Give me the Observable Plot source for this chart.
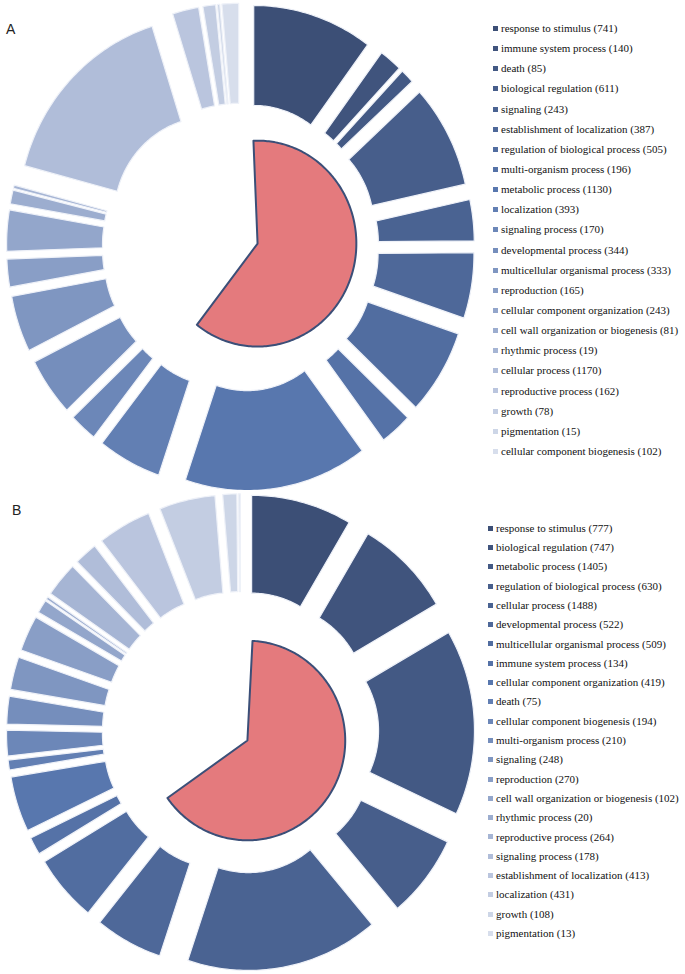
<!DOCTYPE html>
<html><head><meta charset="utf-8">
<script src="https://cdn.jsdelivr.net/npm/d3@7"></script>
<script src="https://cdn.jsdelivr.net/npm/@observablehq/plot@0.6"></script>
<style>
body{margin:0;background:#fff;}
#wrap{position:relative;width:685px;height:974px;overflow:hidden;}
.panel{position:absolute;left:0;}
.tag{position:absolute;font-family:"Liberation Sans",Arial,sans-serif;font-size:14px;color:#222;line-height:16px;}
.legend{position:absolute;left:0;top:0;font-family:"Liberation Serif",Tinos,"Times New Roman",Times,"DejaVu Serif",serif;font-size:11px;color:#111;}
.legend div{position:absolute;white-space:nowrap;line-height:14px;height:14px;font-family:inherit;}
.legend span.sw{display:inline-block;width:5px;height:5px;margin-right:3px;position:relative;top:-1px;vertical-align:middle;}
</style></head><body><div id="wrap"></div>
<script>
// ---------- data ----------
const categoriesA = ["response to stimulus","immune system process","death","biological regulation","signaling","establishment of localization","regulation of biological process","multi-organism process","metabolic process","localization","signaling process","developmental process","multicellular organismal process","reproduction","cellular component organization","cell wall organization or biogenesis","rhythmic process","cellular process","reproductive process","growth","pigmentation","cellular component biogenesis"];
const valuesA = [741,140,85,611,243,387,505,196,1130,393,170,344,333,165,243,81,19,1170,162,78,15,102];
const categoriesB = ["response to stimulus","biological regulation","metabolic process","regulation of biological process","cellular process","developmental process","multicellular organismal process","immune system process","cellular component organization","death","cellular component biogenesis","multi-organism process","signaling","reproduction","cell wall organization or biogenesis","rhythmic process","reproductive process","signaling process","establishment of localization","localization","growth","pigmentation"];
const valuesB = [777,747,1405,630,1488,522,509,134,419,75,194,210,248,270,102,20,264,178,413,431,108,13];
const pieShareA = 0.612;
const pieShareB = 0.644;
const panelLabels = ["A","B"];

// ---------- style / geometry ----------
const shade = d3.scaleLinear().domain([0,0.38,0.81,1])
  .range(["#3c4f76","#5877ae","#b0bdd9","#d7deec"]).interpolate(d3.interpolateRgb);
const R1 = 1, R0 = 0.5, EXPL = 0.22;
const DEG = Math.PI/180;

function ringRows(values){
  const total = d3.sum(values), n = values.length;
  let cum = 0; const rows = [];
  values.forEach((v,i)=>{
    const a0 = cum/total*2*Math.PI, a1 = (cum+v)/total*2*Math.PI; cum += v;
    const m = (a0+a1)/2, ox = EXPL*Math.sin(m), oy = EXPL*Math.cos(m);
    const steps = Math.max(2, Math.ceil((a1-a0)/DEG));
    const color = shade(i/(n-1));
    for(let k=0;k<=steps;k++){const a=a0+(a1-a0)*k/steps; rows.push({key:i,color,x:ox+R1*Math.sin(a),y:oy+R1*Math.cos(a)});}
    for(let k=steps;k>=0;k--){const a=a0+(a1-a0)*k/steps; rows.push({key:i,color,x:ox+R0*Math.sin(a),y:oy+R0*Math.cos(a)});}
  });
  return rows;
}
function pieRows(share, cx, cy, r, startDeg){
  const a0 = startDeg*DEG, a1 = a0 + share*2*Math.PI;
  const rows=[{x:cx,y:cy}];
  const steps = Math.ceil((a1-a0)/DEG);
  for(let k=0;k<=steps;k++){const a=a0+(a1-a0)*k/steps; rows.push({x:cx+r*Math.sin(a),y:cy+r*Math.cos(a)});}
  return rows;
}

function panel(values, share, opt){
  return Plot.plot({
    width:480, height:opt.height, margin:0,
    x:{domain:opt.xd, axis:null},
    y:{domain:opt.yd, axis:null},
    color:{type:"identity"},
    marks:[
      Plot.line(ringRows(values), {x:"x", y:"y", z:"key", fill:"color", stroke:"#eef1f8", strokeWidth:1.2, curve:"linear-closed"}),
      Plot.line(pieRows(share, opt.pcx, opt.pcy, opt.pr, opt.pstart), {x:"x", y:"y", fill:"#e47a7d", stroke:"#3b4f78", strokeWidth:2, strokeLinejoin:"round", curve:"linear-closed"})
    ]
  });
}

const wrap = document.getElementById("wrap");
function addPanel(values, cats, share, top, opt, legendLeft, legendTop, legendStep, label, tagPos){
  const svg = panel(values, share, opt);
  svg.classList.add("panel"); svg.style.top = top+"px";
  wrap.appendChild(svg);
  const t = document.createElement("div"); t.className="tag"; t.textContent=label;
  t.style.left=tagPos[0]+"px"; t.style.top=tagPos[1]+"px"; wrap.appendChild(t);
  const lg = document.createElement("div"); lg.className="legend";
  cats.forEach((c,i)=>{
    const row=document.createElement("div");
    row.style.left=legendLeft+"px";
    row.style.top=(legendTop+i*legendStep-7)+"px";
    const sw=document.createElement("span"); sw.className="sw"; sw.style.background=shade(i/(cats.length-1));
    row.appendChild(sw);
    row.appendChild(document.createTextNode(`${c} (${values[i]})`));
    lg.appendChild(row);
  });
  wrap.appendChild(lg);
}

addPanel(valuesA, categoriesA, pieShareA, 0,
  {height:490, xd:[-1.2513,1.2513], yd:[-1.217,1.234], pcx:0.089, pcy:0.018, pr:0.515, pstart:-2.4},
  493, 28, 20.14, panelLabels[0], [6,21]);
addPanel(valuesB, categoriesB, pieShareB, 490,
  {height:484, xd:[-1.2513,1.2513], yd:[-1.237,1.237], pcx:0.036, pcy:-0.041, pr:0.51, pstart:3},
  488, 527.7, 19.3, panelLabels[1], [12,502]);
</script></body></html>
